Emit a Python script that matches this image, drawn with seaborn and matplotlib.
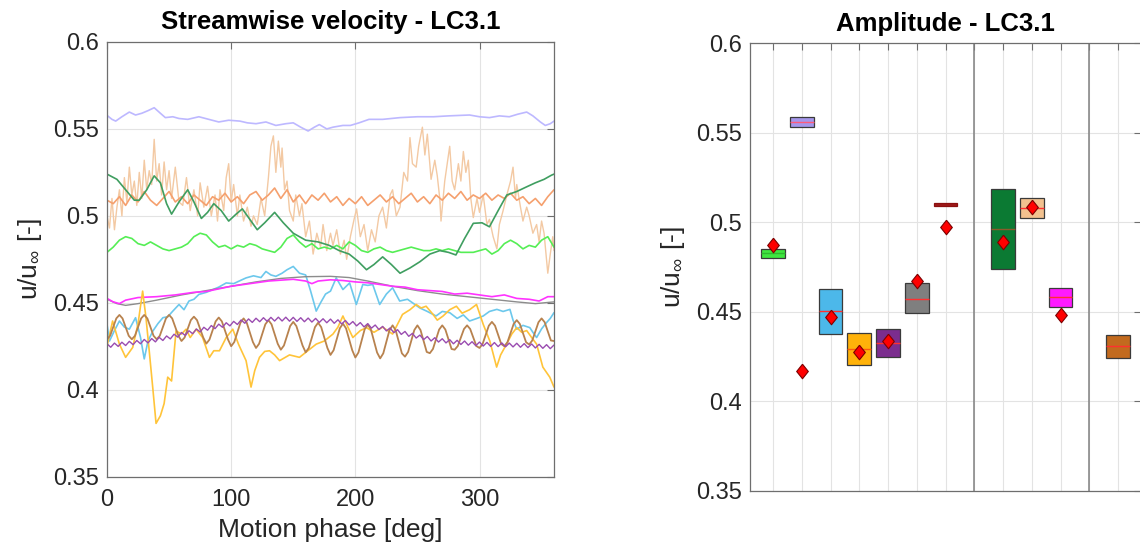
import numpy as np
import pandas as pd
import matplotlib
matplotlib.use("Agg")
import matplotlib.pyplot as plt
import seaborn as sns

# ---------------- data : left panel (phase [deg], u/u_inf) ----------------
tan_phase = [0,2,4,6,8,10,12,14,16,18,20,22,24,26,28,30,32,34,36,38,40,42,44,46,48,50,52,55,58,61,64,67,70,73,75,78,81,84,87,89,91,94,96,98,100,102,105,107,110,113,116,118,121,124,127,130,132,134,136,138,140,141,143,145,147,150,152,155,157,160,163,166,169,172,174,177,180,182,185,188,191,193,196,199,201,204,207,210,213,216,219,222,225,228,230,233,236,239,242,244,246,249,251,254,256,258,260,261,264,266,268,269,272,274,276,278,280,283,285,287,289,291,293,295,298,300,303,306,308,311,314,316,319,322,325,327,329,330,333,335,338,340,343,346,348,350,352,355,357,359,360]
tan_u = [0.500,0.493,0.510,0.492,0.505,0.515,0.500,0.522,0.508,0.528,0.512,0.520,0.506,0.525,0.510,0.532,0.515,0.526,0.518,0.544,0.520,0.530,0.512,0.531,0.515,0.526,0.510,0.528,0.508,0.506,0.522,0.503,0.515,0.500,0.519,0.505,0.517,0.500,0.512,0.497,0.515,0.503,0.522,0.530,0.508,0.518,0.500,0.512,0.497,0.505,0.494,0.500,0.495,0.510,0.500,0.522,0.540,0.546,0.525,0.543,0.528,0.539,0.515,0.520,0.503,0.497,0.512,0.500,0.507,0.488,0.497,0.478,0.490,0.482,0.495,0.480,0.490,0.483,0.492,0.478,0.486,0.475,0.488,0.498,0.504,0.488,0.495,0.480,0.492,0.485,0.500,0.505,0.493,0.512,0.515,0.500,0.505,0.525,0.520,0.545,0.530,0.528,0.540,0.551,0.535,0.547,0.530,0.521,0.532,0.523,0.510,0.497,0.520,0.530,0.540,0.520,0.515,0.530,0.520,0.537,0.525,0.532,0.510,0.499,0.510,0.502,0.512,0.495,0.498,0.488,0.481,0.495,0.503,0.512,0.520,0.528,0.510,0.518,0.505,0.497,0.505,0.500,0.490,0.495,0.485,0.497,0.490,0.467,0.478,0.488,0.480]

lav_phase = [0,4,7,12,18,23,28,33,38,43,47,53,58,65,74,82,90,98,107,113,120,128,136,144,150,156,162,167,171,177,182,190,196,203,211,222,236,250,263,275,285,292,300,308,316,324,331,338,343,349,353,357,360]
lav_u = [0.5578,0.5555,0.5545,0.557,0.5597,0.558,0.559,0.5605,0.5622,0.559,0.5565,0.557,0.556,0.5555,0.557,0.5555,0.554,0.555,0.5545,0.5535,0.553,0.554,0.552,0.553,0.5535,0.551,0.5488,0.551,0.5525,0.550,0.551,0.552,0.552,0.5535,0.5555,0.5555,0.5565,0.557,0.557,0.5575,0.5578,0.558,0.557,0.5565,0.5575,0.557,0.5585,0.5597,0.5575,0.554,0.552,0.553,0.5545]

step5_phase = list(range(0, 361, 5))
orange_u = [0.509,0.507,0.511,0.506,0.512,0.508,0.514,0.509,0.506,0.510,0.514,0.508,0.511,0.507,0.512,0.509,0.506,0.511,0.509,0.513,0.508,0.511,0.507,0.512,0.514,0.509,0.512,0.516,0.510,0.515,0.508,0.512,0.507,0.512,0.509,0.513,0.508,0.511,0.506,0.510,0.507,0.511,0.506,0.509,0.512,0.508,0.511,0.507,0.510,0.513,0.508,0.511,0.507,0.512,0.509,0.513,0.510,0.514,0.509,0.512,0.510,0.513,0.509,0.512,0.510,0.513,0.509,0.511,0.507,0.510,0.506,0.511,0.515]
lime_u = [0.479,0.482,0.486,0.488,0.487,0.484,0.483,0.485,0.483,0.481,0.480,0.481,0.482,0.484,0.488,0.490,0.489,0.485,0.482,0.483,0.481,0.483,0.482,0.484,0.483,0.481,0.480,0.479,0.482,0.487,0.489,0.485,0.482,0.484,0.481,0.482,0.481,0.483,0.481,0.485,0.483,0.480,0.479,0.481,0.482,0.480,0.479,0.480,0.481,0.482,0.481,0.480,0.480,0.481,0.480,0.481,0.480,0.479,0.479,0.479,0.480,0.481,0.478,0.480,0.484,0.486,0.484,0.481,0.483,0.482,0.486,0.488,0.482]

step25_phase = [i * 2.5 for i in range(145)]
brown_u = [0.429,0.431,0.436,0.441,0.443,0.441,0.436,0.431,
           0.429,0.431,0.436,0.441,0.443,0.441,0.436,0.431,
           0.429,0.431,0.436,0.441,0.443,0.441,0.436,0.431,
           0.428,0.430,0.435,0.440,0.442,0.440,0.435,0.430,
           0.4265,0.4288,0.434,0.4393,0.4415,0.4393,0.434,0.4288,
           0.425,0.4274,0.433,0.4386,0.441,0.4386,0.433,0.4274,
           0.424,0.4264,0.432,0.4376,0.440,0.4376,0.432,0.4264,
           0.423,0.4254,0.431,0.4366,0.439,0.4366,0.431,0.4254,
           0.4215,0.424,0.430,0.436,0.4385,0.436,0.430,0.424,
           0.420,0.4227,0.429,0.4353,0.438,0.4353,0.429,0.4227,
           0.4185,0.4214,0.428,0.4347,0.4375,0.4347,0.428,0.4214,
           0.418,0.4209,0.4275,0.4342,0.437,0.4342,0.4275,0.4209,
           0.419,0.4217,0.428,0.4343,0.437,0.4343,0.428,0.4217,
           0.421,0.4234,0.429,0.4346,0.437,0.4346,0.429,0.4234,
           0.423,0.4251,0.430,0.4349,0.437,0.4349,0.430,0.4251,
           0.424,0.4263,0.4315,0.4368,0.439,0.4368,0.4315,0.4263,
           0.425,0.4273,0.4325,0.4378,0.440,0.4378,0.4325,0.4273,
           0.426,0.4283,0.4335,0.4388,0.441,0.4388,0.4335,0.4283,
           0.428]

dgreen_phase = [0,8,15,22,26,32,38,43,48,52,58,65,70,76,81,86,92,98,104,109,115,121,127,135,142,150,160,170,179,187,195,202,209,215,222,229,236,244,252,260,268,275,281,288,295,302,308,315,322,330,338,345,352,358,360]
dgreen_u = [0.524,0.521,0.515,0.509,0.509,0.515,0.523,0.519,0.507,0.501,0.508,0.515,0.508,0.4985,0.502,0.507,0.503,0.497,0.501,0.504,0.498,0.492,0.496,0.502,0.496,0.490,0.486,0.485,0.483,0.480,0.478,0.474,0.469,0.472,0.4764,0.472,0.467,0.470,0.4736,0.478,0.480,0.479,0.4775,0.487,0.4957,0.496,0.4937,0.503,0.512,0.514,0.5167,0.519,0.521,0.5234,0.524]

blue_phase = [0,2,6,10,14,18,23,27,30,33,37,41,45,49,53,58,62,66,70,74,80,85,90,96,102,108,112,118,124,128,132,136,141,145,150,155,160,164,168.5,172,176,180,184.6,190,195.4,200.8,206,210,214,219.6,225,230,235.7,242,248,252,258,265,270,276,282,287,292,298,303,308,314,319,324.5,327,330,335,340.5,343,346,350,354,357,360]
blue_u = [0.4376,0.428,0.434,0.4395,0.436,0.4348,0.4414,0.430,0.4177,0.428,0.4338,0.438,0.4414,0.442,0.4452,0.449,0.446,0.451,0.452,0.4548,0.456,0.4575,0.459,0.4614,0.461,0.463,0.4643,0.4655,0.4645,0.468,0.466,0.4652,0.467,0.469,0.4709,0.467,0.466,0.4567,0.4452,0.450,0.455,0.4567,0.4643,0.4576,0.4614,0.449,0.4605,0.460,0.4605,0.449,0.455,0.4586,0.451,0.452,0.449,0.447,0.445,0.4424,0.445,0.4443,0.441,0.443,0.4395,0.441,0.4424,0.445,0.4462,0.445,0.4462,0.440,0.4348,0.437,0.4357,0.433,0.430,0.435,0.4386,0.441,0.4443]

yellow_phase = [0,4.5,10,15,20.7,25,28.7,31.4,34,37,39.5,43,46,48.9,52,55.6,60,63.7,67,71.8,77,82.5,86,90.6,96,101.3,106,112,116,119,122.8,127,130.9,135,139,147,155,161,168.5,175,182,186,190,194,198,204,209,215,222,230,238,244,249,253,257,262.6,266,270.7,276,281.4,286,292,297.6,303,308.3,313.8,317,321.8,326,330,334,338,342,346,351,356.6,360]
yellow_u = [0.425,0.4395,0.4262,0.4186,0.4243,0.438,0.4567,0.4414,0.4224,0.400,0.3806,0.385,0.392,0.4072,0.405,0.4338,0.432,0.4348,0.430,0.4348,0.430,0.4186,0.4224,0.4224,0.430,0.4348,0.426,0.4167,0.4015,0.411,0.4186,0.422,0.4224,0.420,0.4167,0.420,0.4186,0.422,0.4262,0.428,0.432,0.436,0.4424,0.436,0.430,0.434,0.4357,0.433,0.436,0.432,0.4433,0.446,0.449,0.447,0.448,0.4433,0.440,0.4424,0.446,0.448,0.444,0.446,0.449,0.4376,0.428,0.413,0.420,0.4262,0.432,0.4357,0.433,0.434,0.430,0.4262,0.413,0.4072,0.4015]

mag_phase = [0,5,10,15,25,40,55,70,80,90,100,110,120,130,140,150,160,165,170,180,190,200,210,220,230,240,250,260,270,280,290,300,310,320,330,340,348,355,360]
mag_u = [0.4525,0.4505,0.4495,0.4515,0.453,0.4535,0.4545,0.456,0.4565,0.458,0.4595,0.4605,0.4615,0.4625,0.463,0.4635,0.4625,0.461,0.4625,0.4632,0.4628,0.462,0.4615,0.4605,0.4595,0.459,0.4575,0.457,0.4565,0.455,0.4555,0.4545,0.4535,0.4545,0.4525,0.452,0.451,0.4535,0.4535]

gray_phase = [0,8,15,25,40,60,80,100,120,140,160,180,195,210,230,250,270,290,310,330,345,360]
gray_u = [0.452,0.4495,0.4485,0.4495,0.4515,0.4545,0.457,0.4595,0.462,0.464,0.465,0.4652,0.4645,0.4625,0.4595,0.457,0.455,0.4535,0.452,0.4505,0.4495,0.4505]

step3_phase = list(range(0, 361, 3))
purple_u = [0.4264,0.4244,0.4268,0.4249,0.4273,0.4254,0.4278,0.4259,0.4283,0.4264,0.4289,
            0.4269,0.4294,0.4275,0.4301,0.4283,0.4309,0.4292,0.4319,0.4302,0.4329,
            0.4312,0.4339,0.4322,0.4349,0.4332,0.4359,0.4342,0.4369,0.4351,0.4377,
            0.4359,0.4385,0.4367,0.4393,0.4375,0.4401,0.4382,0.4407,0.4387,0.4411,
            0.4391,0.4414,0.4393,0.4416,0.4395,0.4417,0.4395,0.4417,0.4394,0.4416,
            0.4393,0.4414,0.4391,0.4412,0.4389,0.4410,0.4387,0.4408,0.4385,0.4406,
            0.4382,0.4402,0.4378,0.4398,0.4373,0.4392,0.4367,0.4386,0.4361,0.4380,
            0.4354,0.4372,0.4346,0.4364,0.4338,0.4355,0.4328,0.4345,0.4318,0.4335,
            0.4307,0.4324,0.4297,0.4314,0.4288,0.4306,0.4280,0.4299,0.4274,0.4293,
            0.4269,0.4288,0.4264,0.4284,0.4260,0.4280,0.4256,0.4276,0.4253,0.4274,
            0.4251,0.4272,0.4249,0.4271,0.4248,0.4269,0.4247,0.4268,0.4246,0.4267,
            0.4244,0.4265,0.4242,0.4263,0.4240,0.4261,0.4238,0.4259,0.4236,0.4257]

# ---------------- data : right panel ----------------
box_pos = [1, 2, 3, 4, 5, 6, 7, 9, 10, 11, 13]
box_lo = [0.4803, 0.5535, 0.4374, 0.4203, 0.4246, 0.4492, 0.5091, 0.4738, 0.5026, 0.4525, 0.4244]
box_hi = [0.4850, 0.5588, 0.4629, 0.4380, 0.4402, 0.4661, 0.5107, 0.5185, 0.5135, 0.4635, 0.4371]
box_med = [0.4827, 0.5560, 0.4505, 0.4292, 0.4324, 0.4573, np.nan, 0.4962, 0.5080, 0.4585, 0.4307]
box_colors = ['#3fe63f', '#a597ec', '#4cb8ea', '#ffb20a', '#7b2d8e', '#7f7f7f', '#9e1a1a',
              '#0b7a33', '#f2c18f', '#ff1aff', '#c26a1e']
box_edges = ['#3a3a3a'] * 6 + ['#8b1010'] + ['#3a3a3a'] * 4
med_colors = ['#2fb82f', '#ff5a7a', '#ff3030', '#ff5a10', '#ff3030', '#ff3030', '#a31515',
              '#8b5a2b', '#ff3030', '#ff3030', '#ff3030']
dia_pos = [1, 2, 3, 4, 5, 6, 7, 9, 10, 11]
dia_val = [0.4874, 0.4171, 0.4473, 0.4277, 0.4337, 0.4672, 0.4973, 0.4890, 0.5088, 0.4480]
sep_pos = [8, 12]
cat_ticks = list(range(1, 14))
y_ticks = [0.35, 0.4, 0.45, 0.5, 0.55, 0.6]
y_labels = ['0.35', '0.4', '0.45', '0.5', '0.55', '0.6']

# ---------------- style ----------------
sns.set_theme(style="white")
plt.rcParams['font.family'] = ['Liberation Sans', 'DejaVu Sans']
plt.rcParams['mathtext.fontset'] = 'custom'
plt.rcParams['mathtext.rm'] = 'Liberation Sans'
plt.rcParams['mathtext.it'] = 'Liberation Sans:italic'
plt.rcParams['mathtext.bf'] = 'Liberation Sans:bold'

TXT = '#262626'
SPINE = '#6e6e6e'
GRID = '#e3e3e3'

fig = plt.figure(figsize=(11.4, 5.53), dpi=100)
ax1 = fig.add_axes([107/1140, 76.4/553, 447/1140, 434.6/553])
ax2 = fig.add_axes([750/1140, 62.3/553, 391/1140, 447.3/553])

series = [
    (tan_phase, tan_u, '#f3c9a3', 1.0),
    (lav_phase, lav_u, '#bdb8ff', 1.2),
    (step5_phase, orange_u, '#f5a06e', 1.2),
    (step5_phase, lime_u, '#55ee55', 1.2),
    (dgreen_phase, dgreen_u, '#3f9e60', 1.2),
    (blue_phase, blue_u, '#6cc8ec', 1.2),
    (gray_phase, gray_u, '#8c8c8c', 1.0),
    (mag_phase, mag_u, '#ff33ff', 1.2),
    (yellow_phase, yellow_u, '#ffc43a', 1.2),
    (step25_phase, brown_u, '#b8824e', 1.3),
    (step3_phase, purple_u, '#9a4cb0', 1.0),
]
for ph, u, c, lw in series:
    df = pd.DataFrame({'phase': ph, 'u': u})
    sns.lineplot(data=df, x='phase', y='u', ax=ax1, color=c, lw=lw,
                 estimator=None, sort=False)

ax1.set_xlim(0, 360)
ax1.set_ylim(0.35, 0.6)
ax1.set_xticks([0, 100, 200, 300])
ax1.set_yticks(y_ticks)
ax1.set_yticklabels(y_labels)
ax1.set_xlabel('Motion phase [deg]', fontsize=19, color=TXT, labelpad=5)
ax1.set_ylabel(r'u/u$_{\infty}$ [-]', fontsize=19, color=TXT, labelpad=6)
ax1.set_title('Streamwise velocity - LC3.1', fontsize=18.5, fontweight='bold',
              color='black', pad=9)

# right panel
heights = [h - l for h, l in zip(box_hi, box_lo)]
ax2.bar(box_pos, heights, bottom=box_lo, width=0.82, color=box_colors,
        edgecolor=box_edges, linewidth=0.9, zorder=3)
for p, m, mc in zip(box_pos, box_med, med_colors):
    if not np.isnan(m):
        ax2.hlines(m, p - 0.41, p + 0.41, color=mc, lw=1.0, zorder=4)
for s in sep_pos:
    ax2.axvline(s, color='#808080', lw=1.1, zorder=2)
dia = pd.DataFrame({'pos': dia_pos, 'val': dia_val})
sns.scatterplot(data=dia, x='pos', y='val', ax=ax2,
                marker=[(0, 1), (0.8, 0), (0, -1), (-0.8, 0), (0, 1)],
                s=110, color='#ff0000', edgecolor='#7a0000', linewidth=0.8, zorder=5)
ax2.set_xlim(0.2, 13.8)
ax2.set_ylim(0.35, 0.6)
ax2.set_xticks(cat_ticks)
ax2.set_xticklabels([])
ax2.set_yticks(y_ticks)
ax2.set_yticklabels(y_labels)
ax2.set_xlabel('')
ax2.set_ylabel(r'u/u$_{\infty}$ [-]', fontsize=19, color=TXT, labelpad=6)
ax2.set_title('Amplitude - LC3.1', fontsize=18.5, fontweight='bold', color='black', pad=9)

for ax in (ax1, ax2):
    ax.grid(True, color=GRID, lw=0.8)
    ax.set_axisbelow(True)
    ax.tick_params(direction='in', length=5, width=0.8, top=True, right=True,
                   labelsize=17, colors=TXT, color=SPINE)
    ax.tick_params(axis='x', pad=9)
    ax.tick_params(axis='y', pad=6)
    for sp in ax.spines.values():
        sp.set_color(SPINE)
        sp.set_linewidth(0.9)
        sp.set_visible(True)

fig.savefig('out.png', dpi=100)
